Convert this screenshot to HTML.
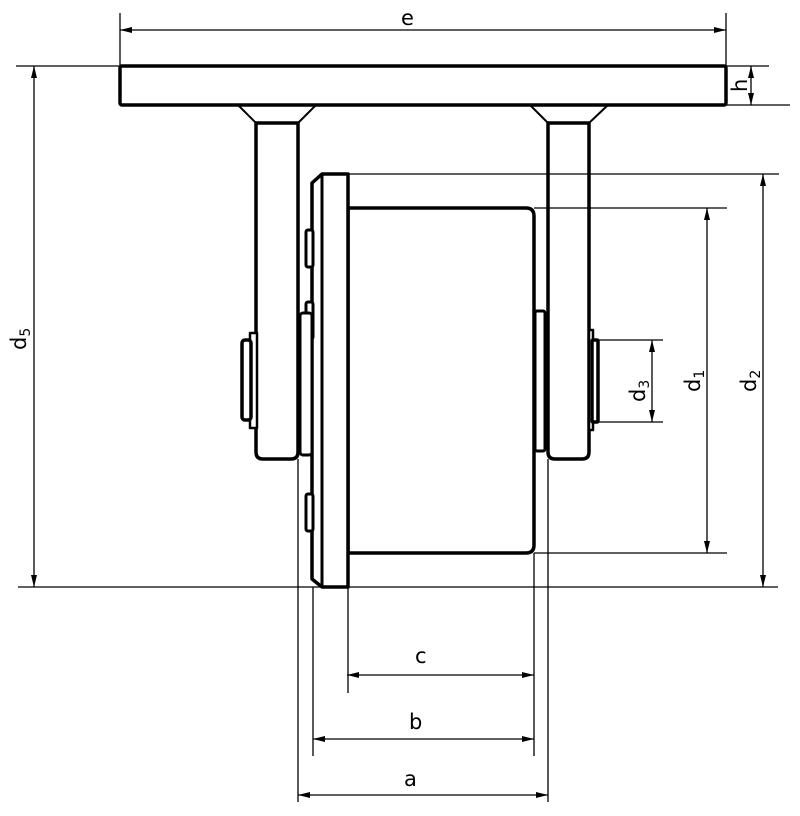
<!DOCTYPE html>
<html><head><meta charset="utf-8"><style>
html,body{margin:0;padding:0;background:#fff;}
svg{display:block;}
text{font-family:"DejaVu Sans","Liberation Sans",sans-serif;font-size:21px;fill:#000;}
</style></head><body>
<svg width="800" height="816" viewBox="0 0 800 816" xmlns="http://www.w3.org/2000/svg">
<defs>
<marker id="ar" viewBox="0 0 12 6" refX="12" refY="3" markerWidth="12" markerHeight="6" orient="auto-start-reverse" markerUnits="userSpaceOnUse">
<path d="M0,0 L12,3 L0,6 z" fill="#000"/></marker>
</defs>
<g stroke="#000" stroke-width="3.5" fill="#fff" stroke-linejoin="round">
<rect x="120" y="66" width="606" height="39" rx="2"/>
<path d="M238,105 L256,123 L298,123 L316,105" stroke-width="2" fill="none"/>
<path d="M530,105 L548,123 L589,123 L608,105" stroke-width="2" fill="none"/>
<path d="M256,123 L256,452 Q256,459 263,459 L291,459 Q298,459 298,452 L298,123 Z" fill="none"/>
<path d="M548,123 L548,452 Q548,459 555,459 L582,459 Q589,459 589,452 L589,123 Z" fill="none"/>
<rect x="250" y="333" width="7" height="95" stroke-width="2.5"/>
<rect x="242" y="340" width="9" height="80" rx="3"/>
<rect x="589" y="330" width="4" height="100" stroke-width="2.5"/>
<rect x="592" y="340" width="6" height="82" rx="1"/>
<path d="M348,208 L526,208 Q534,208 534,216 L534,545 Q534,553 526,553 L348,553 Z"/>
<rect x="535" y="311" width="10" height="140" rx="2" stroke-width="3"/>
<path d="M322,174 L348,174 L348,587 L322,587 L312,579 L312,183 Z"/>
<line x1="322" y1="174" x2="322" y2="587" stroke-width="3"/>
<rect x="306" y="230" width="7" height="37" rx="2" stroke-width="3"/>
<rect x="306" y="302" width="7" height="37" rx="2" stroke-width="3"/>
<rect x="300" y="313" width="12" height="142" rx="3" stroke-width="3"/>
<rect x="306" y="494" width="7" height="37" rx="2" stroke-width="3"/>
</g>
<g stroke="#000" stroke-width="1.3" fill="none">
<line x1="120" y1="13" x2="120" y2="66"/>
<line x1="726" y1="13" x2="726" y2="66"/>
<line x1="16" y1="66" x2="120" y2="66"/>
<line x1="726" y1="66" x2="769" y2="66"/>
<line x1="726" y1="105" x2="790" y2="105"/>
<line x1="18" y1="587" x2="778" y2="587"/>
<line x1="348" y1="174" x2="779" y2="174"/>
<line x1="534" y1="208" x2="727" y2="208"/>
<line x1="534" y1="553" x2="727" y2="553"/>
<line x1="598" y1="340" x2="663" y2="340"/>
<line x1="598" y1="422" x2="663" y2="422"/>
<line x1="298" y1="459" x2="298" y2="802"/>
<line x1="313" y1="587" x2="313" y2="756"/>
<line x1="348" y1="587" x2="348" y2="693"/>
<line x1="534" y1="553" x2="534" y2="756"/>
<line x1="548" y1="459" x2="548" y2="802"/>
<line x1="120" y1="30" x2="726" y2="30" marker-start="url(#ar)" marker-end="url(#ar)"/>
<line x1="751" y1="66" x2="751" y2="105" marker-start="url(#ar)" marker-end="url(#ar)"/>
<line x1="34" y1="66" x2="34" y2="587" marker-start="url(#ar)" marker-end="url(#ar)"/>
<line x1="763" y1="174" x2="763" y2="587" marker-start="url(#ar)" marker-end="url(#ar)"/>
<line x1="707" y1="208" x2="707" y2="553" marker-start="url(#ar)" marker-end="url(#ar)"/>
<line x1="652" y1="340" x2="652" y2="422" marker-start="url(#ar)" marker-end="url(#ar)"/>
<line x1="347" y1="675" x2="534" y2="675" marker-start="url(#ar)" marker-end="url(#ar)"/>
<line x1="313" y1="739" x2="534" y2="739" marker-start="url(#ar)" marker-end="url(#ar)"/>
<line x1="298" y1="795" x2="548" y2="795" marker-start="url(#ar)" marker-end="url(#ar)"/>
</g>
<text x="401" y="25">e</text>
<text transform="translate(747,92) rotate(-90)" font-size="18">h</text>
<text transform="translate(26,350) rotate(-90)">d<tspan font-size="14" dy="4">5</tspan></text>
<text transform="translate(645,402) rotate(-90)">d<tspan font-size="14" dy="4">3</tspan></text>
<text transform="translate(700,392) rotate(-90)">d<tspan font-size="14" dy="4">1</tspan></text>
<text transform="translate(756,392) rotate(-90)">d<tspan font-size="14" dy="4">2</tspan></text>
<text x="415" y="663">c</text>
<text x="409" y="729">b</text>
<text x="404" y="786">a</text>
</svg>
</body></html>
